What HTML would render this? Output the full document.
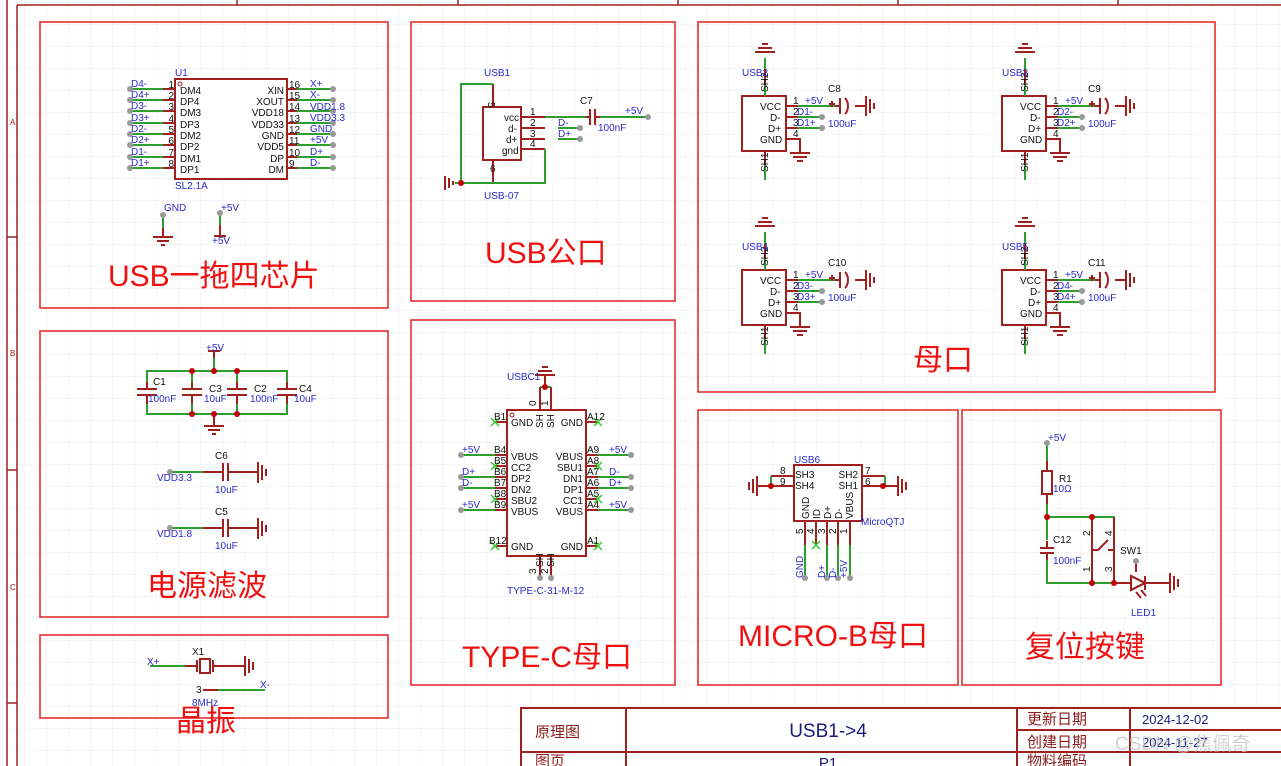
<!DOCTYPE html>
<html><head><meta charset="utf-8"><style>
html,body{margin:0;padding:0;background:#fff;}
svg{display:block;font-family:"Liberation Sans","Noto Sans CJK SC",sans-serif;}
.b{fill:none;stroke:#e32020;stroke-width:1.5}
.r{stroke:#a02020;stroke-width:2;fill:none}
.g{stroke:#2e9e2e;stroke-width:2;fill:none}
.body{fill:#fff;stroke:#a02020;stroke-width:2}
.t{font-size:10px;fill:#111}
.n{font-size:10px;fill:#2a2acc}
.title{font-size:30px;fill:#f01010}
.d{fill:#999}
.j{fill:#c00000}
.x{stroke:#33cc33;stroke-width:1.5}
</style></head><body>
<svg width="1281" height="766" viewBox="0 0 1281 766">
<defs><pattern id="grid" width="22" height="22" patternUnits="userSpaceOnUse" x="3" y="3"><path d="M22 0V22H0" fill="none" stroke="#ececec" stroke-width="1"/></pattern></defs>
<rect width="1281" height="766" fill="url(#grid)"/>
<!-- frame -->
<g stroke="#a02020" stroke-width="1.5" fill="none">
<path d="M7 0V766M17 5V766M17 5H1281"/>
<path d="M7 237H17M7 470H17M7 703H17M237 0V5M458 0V5M678 0V5M898 0V5M1118 0V5"/>
</g>
<g font-size="8" fill="#a02020"><text x="10" y="125">A</text><text x="10" y="356">B</text><text x="10" y="590">C</text></g>
<!-- panels -->
<rect class="b" x="40" y="22" width="348" height="286"/>
<rect class="b" x="411" y="22" width="264" height="279"/>
<rect class="b" x="698" y="22" width="517" height="370"/>
<rect class="b" x="40" y="331" width="348" height="286"/>
<rect class="b" x="411" y="320" width="264" height="365"/>
<rect class="b" x="698" y="410" width="260" height="275"/>
<rect class="b" x="962" y="410" width="259" height="275"/>
<rect class="b" x="40" y="635" width="348" height="83"/>
<!-- titles -->
<text class="title" x="108" y="286">USB一拖四芯片</text>
<text class="title" x="485" y="263">USB公口</text>
<text class="title" x="913" y="370">母口</text>
<text class="title" x="147" y="596">电源滤波</text>
<text class="title" x="462" y="667">TYPE-C母口</text>
<text class="title" x="738" y="646">MICRO-B母口</text>
<text class="title" x="1025" y="657">复位按键</text>
<text class="title" x="176" y="731">晶振</text>

<!-- U1 -->
<rect class="body" x="175" y="79" width="112" height="100"/>
<circle cx="180" cy="84" r="2" fill="none" stroke="#a02020"/>
<text class="n" x="175" y="76">U1</text><text class="n" x="175" y="189">SL2.1A</text>
<g id="u1l">
<path class="g" d="M130 89H163M130 100H163M130 111H163M130 123H163M130 134H163M130 145H163M130 157H163M130 168H163"/>
<path class="r" d="M163 89H175M163 100H175M163 111H175M163 123H175M163 134H175M163 145H175M163 157H175M163 168H175"/>
<path class="g" d="M297 89H333M297 100H333M297 111H333M297 123H333M297 134H333M297 145H333M297 157H333M297 168H333"/>
<path class="r" d="M287 89H297M287 100H297M287 111H297M287 123H297M287 134H297M287 145H297M287 157H297M287 168H297"/>
</g>
<g class="d"><circle cx="130" cy="89" r="3"/><circle cx="130" cy="100" r="3"/><circle cx="130" cy="111" r="3"/><circle cx="130" cy="123" r="3"/><circle cx="130" cy="134" r="3"/><circle cx="130" cy="145" r="3"/><circle cx="130" cy="157" r="3"/><circle cx="130" cy="168" r="3"/>
<circle cx="333" cy="89" r="3"/><circle cx="333" cy="100" r="3"/><circle cx="333" cy="111" r="3"/><circle cx="333" cy="123" r="3"/><circle cx="333" cy="134" r="3"/><circle cx="333" cy="145" r="3"/><circle cx="333" cy="157" r="3"/><circle cx="333" cy="168" r="3"/></g>
<g class="n"><text x="131" y="87">D4-</text><text x="131" y="98">D4+</text><text x="131" y="109">D3-</text><text x="131" y="121">D3+</text><text x="131" y="132">D2-</text><text x="131" y="143">D2+</text><text x="131" y="155">D1-</text><text x="131" y="166">D1+</text>
<text x="310" y="87">X+</text><text x="310" y="98">X-</text><text x="310" y="110">VDD1.8</text><text x="310" y="121">VDD3.3</text><text x="310" y="132">GND</text><text x="310" y="143">+5V</text><text x="310" y="155">D+</text><text x="310" y="166">D-</text></g>
<g class="t" text-anchor="end"><text x="174" y="88">1</text><text x="174" y="99">2</text><text x="174" y="110">3</text><text x="174" y="122">4</text><text x="174" y="133">5</text><text x="174" y="144">6</text><text x="174" y="156">7</text><text x="174" y="167">8</text></g>
<g class="t"><text x="180" y="94">DM4</text><text x="180" y="105">DP4</text><text x="180" y="116">DM3</text><text x="180" y="128">DP3</text><text x="180" y="139">DM2</text><text x="180" y="150">DP2</text><text x="180" y="162">DM1</text><text x="180" y="173">DP1</text>
<text x="289" y="88">16</text><text x="289" y="99">15</text><text x="289" y="110">14</text><text x="289" y="122">13</text><text x="289" y="133">12</text><text x="289" y="144">11</text><text x="289" y="156">10</text><text x="289" y="167">9</text></g>
<g class="t" text-anchor="end"><text x="284" y="94">XIN</text><text x="284" y="105">XOUT</text><text x="284" y="116">VDD18</text><text x="284" y="128">VDD33</text><text x="284" y="139">GND</text><text x="284" y="150">VDD5</text><text x="284" y="162">DP</text><text x="284" y="173">DM</text></g>
<!-- GND / +5V -->
<path class="g" d="M163 215V228M220 213V225"/><path class="r" d="M163 228V237M153 237H173M157 241H169M161 245H165M220 225V236M214 236H226"/>
<circle class="d" cx="163" cy="215" r="3"/><circle class="d" cx="220" cy="213" r="3"/>
<text class="n" x="164" y="211">GND</text><text class="n" x="221" y="211">+5V</text><text class="n" x="212" y="244">+5V</text>

<!-- USB1 -->
<rect class="body" x="483" y="107" width="38" height="53"/>
<path class="r" d="M493 84V107M493 160V183M521 117H545M521 128H545M521 139H545M521 149H545M445 176V190M449 178V188M453 181V185"/>
<path class="g" d="M493 84H461V183H545V149M545 117H585M558 128H580M558 139H580M600 117H648M461 183H455"/>
<path class="r" d="M585 117H590M590 109V125M595 109V125M595 117H600"/>
<circle class="j" cx="461" cy="183" r="3"/>
<circle class="d" cx="580" cy="128" r="3"/><circle class="d" cx="580" cy="139" r="3"/><circle class="d" cx="648" cy="117" r="3"/>
<g class="t"><text x="504" y="121">vcc</text><text x="508" y="132">d-</text><text x="506" y="143">d+</text><text x="502" y="154">gnd</text><text x="530" y="115">1</text><text x="530" y="126">2</text><text x="530" y="137">3</text><text x="530" y="147">4</text><text x="488" y="102" transform="rotate(90 488 102)">5</text><text x="490" y="172">6</text></g>
<g class="n"><text x="484" y="76">USB1</text><text x="484" y="199">USB-07</text><text x="558" y="126">D-</text><text x="558" y="137">D+</text><text x="625" y="114">+5V</text><text x="598" y="131">100nF</text></g>
<text class="t" x="580" y="104">C7</text>

<!-- 母口 connectors -->
<g id="m1">
<rect class="body" x="742" y="96" width="44" height="55"/>
<path class="r" d="M765 96V58M755 52H775M758 48H772M762 44H768M765 151V165M786 106H798M786 117H798M786 128H798M786 139H800V153M790 153H810M793 157H807M797 161H803M835 106H840M840 98V114M855 106H866M866 96V116M870 99V113M874 103V109"/>
<path class="r" d="M845 98C849 102 849 110 845 114"/>
<path class="g" d="M765 58V70M765 85V96M765 165V180M798 106H835M798 117H822M798 128H822"/>
<circle class="d" cx="822" cy="117" r="3"/><circle class="d" cx="822" cy="128" r="3"/>
<g class="t"><text x="760" y="110">VCC</text><text x="770" y="121">D-</text><text x="768" y="132">D+</text><text x="760" y="143">GND</text><text x="793" y="104">1</text><text x="793" y="115">2</text><text x="793" y="126">3</text><text x="793" y="137">4</text>
<text x="768" y="92" transform="rotate(-90 768 92)">SH2</text><text x="768" y="172" transform="rotate(-90 768 172)">SH1</text></g>
<path class="r" d="M829 104H835M832 101V107" stroke-width="1"/>
</g>
<g transform="translate(260 0)"><use href="#m1"/></g>
<g transform="translate(0 174)"><use href="#m1"/></g>
<g transform="translate(260 174)"><use href="#m1"/></g>
<g class="n"><text x="742" y="76">USB2</text><text x="1002" y="76">USB3</text><text x="742" y="250">USB4</text><text x="1002" y="250">USB5</text>
<text x="805" y="104">+5V</text><text x="1065" y="104">+5V</text><text x="805" y="278">+5V</text><text x="1065" y="278">+5V</text>
<text x="797" y="115">D1-</text><text x="797" y="126">D1+</text><text x="1057" y="115">D2-</text><text x="1057" y="126">D2+</text>
<text x="797" y="289">D3-</text><text x="797" y="300">D3+</text><text x="1057" y="289">D4-</text><text x="1057" y="300">D4+</text>
<text x="828" y="127">100uF</text><text x="1088" y="127">100uF</text><text x="828" y="301">100uF</text><text x="1088" y="301">100uF</text></g>
<g class="t"><text x="828" y="92">C8</text><text x="1088" y="92">C9</text><text x="828" y="266">C10</text><text x="1088" y="266">C11</text></g>

<!-- Filter -->
<path class="g" d="M147 371H287V414H147ZM192 371V414M237 371V414M214 358V371"/>
<rect x="140" y="382" width="154" height="22" fill="#fff"/>
<path class="r" d="M147 382V388M147 396V404M137 389H157M137 395H157M192 382V388M192 396V404M182 389H202M182 395H202M237 382V388M237 396V404M227 389H247M227 395H247M287 382V388M287 396V404M277 389H297M277 395H297M208 351H220M214 351V358M214 414V426M204 426H224M208 430H220M212 434H216"/>
<g class="j"><circle cx="192" cy="371" r="3"/><circle cx="214" cy="371" r="3"/><circle cx="237" cy="371" r="3"/><circle cx="192" cy="414" r="3"/><circle cx="214" cy="414" r="3"/><circle cx="237" cy="414" r="3"/></g>
<g class="t"><text x="153" y="385">C1</text><text x="209" y="392">C3</text><text x="254" y="392">C2</text><text x="299" y="392">C4</text><text x="215" y="459">C6</text><text x="215" y="515">C5</text></g>
<g class="n"><text x="206" y="351">+5V</text><text x="148" y="402">100nF</text><text x="204" y="402">10uF</text><text x="250" y="402">100nF</text><text x="294" y="402">10uF</text>
<text x="157" y="481">VDD3.3</text><text x="215" y="493">10uF</text><text x="157" y="537">VDD1.8</text><text x="215" y="549">10uF</text></g>
<path class="g" d="M170 472H203M170 528H203"/>
<path class="r" d="M203 472H223M223 463V481M228 463V481M228 472H258M258 462V483M262 465V480M266 469V476M203 528H223M223 519V537M228 519V537M228 528H258M258 518V539M262 521V536M266 525V532"/>
<circle class="d" cx="170" cy="472" r="3"/><circle class="d" cx="170" cy="528" r="3"/>

<!-- Crystal -->
<path class="g" d="M150 666H185M218 690H265"/>
<path class="r" d="M185 666H197M197 660V672M213 660V672M213 666H245M245 656V676M249 659V673M253 662V670M203 690H218"/>
<rect x="200" y="659" width="10" height="14" class="body" stroke-width="1.5"/>
<text class="n" x="147" y="665">X+</text><text class="t" x="192" y="655">X1</text><text class="t" x="196" y="693">3</text><text class="n" x="192" y="706">8MHz</text><text class="n" x="260" y="688">X-</text>

<!-- TYPE-C -->
<rect class="body" x="507" y="410" width="79" height="146"/>
<circle cx="512" cy="415" r="2" fill="none" stroke="#a02020"/>
<path class="r" d="M540 387V410M551 387V410M540 556V578M551 556V578M545 387V375M535 375H555M538 371H552M542 367H548M495 422H507M495 455H507M495 466H507M495 477H507M495 488H507M495 499H507M495 510H507M495 546H507M586 422H598M586 455H598M586 466H598M586 477H598M586 488H598M586 499H598M586 510H598M586 546H598"/>
<path class="g" d="M540 387H551M461 455H495M461 477H495M461 488H495M461 510H495M598 455H631M598 477H631M598 488H631M598 510H631"/>
<circle class="j" cx="545" cy="387" r="3"/>
<g class="d"><circle cx="461" cy="455" r="3"/><circle cx="461" cy="477" r="3"/><circle cx="461" cy="488" r="3"/><circle cx="461" cy="510" r="3"/><circle cx="631" cy="455" r="3"/><circle cx="631" cy="477" r="3"/><circle cx="631" cy="488" r="3"/><circle cx="631" cy="510" r="3"/><circle cx="540" cy="578" r="3"/><circle cx="551" cy="578" r="3"/></g>
<g class="x"><path d="M491 418l8 8M499 418l-8 8M491 462l8 8M499 462l-8 8M491 495l8 8M499 495l-8 8M491 542l8 8M499 542l-8 8M594 418l8 8M602 418l-8 8M594 462l8 8M602 462l-8 8M594 495l8 8M602 495l-8 8M594 542l8 8M602 542l-8 8"/></g>
<g class="t"><text x="511" y="426">GND</text><text x="511" y="460">VBUS</text><text x="511" y="471">CC2</text><text x="511" y="482">DP2</text><text x="511" y="493">DN2</text><text x="511" y="504">SBU2</text><text x="511" y="515">VBUS</text><text x="511" y="550">GND</text>
<text x="583" y="426" text-anchor="end">GND</text><text x="583" y="460" text-anchor="end">VBUS</text><text x="583" y="471" text-anchor="end">SBU1</text><text x="583" y="482" text-anchor="end">DN1</text><text x="583" y="493" text-anchor="end">DP1</text><text x="583" y="504" text-anchor="end">CC1</text><text x="583" y="515" text-anchor="end">VBUS</text><text x="583" y="550" text-anchor="end">GND</text>
<text x="494" y="420">B1</text><text x="494" y="453">B4</text><text x="494" y="464">B5</text><text x="494" y="475">B6</text><text x="494" y="486">B7</text><text x="494" y="497">B8</text><text x="494" y="508">B9</text><text x="489" y="544">B12</text>
<text x="587" y="420">A12</text><text x="587" y="453">A9</text><text x="587" y="464">A8</text><text x="587" y="475">A7</text><text x="587" y="486">A6</text><text x="587" y="497">A5</text><text x="587" y="508">A4</text><text x="587" y="544">A1</text>
<text x="543" y="428" transform="rotate(-90 543 428)">SH</text><text x="554" y="428" transform="rotate(-90 554 428)">SH</text><text x="543" y="567" transform="rotate(-90 543 567)">SH</text><text x="554" y="567" transform="rotate(-90 554 567)">SH</text>
<text x="536" y="406" transform="rotate(-90 536 406)">0</text><text x="548" y="406" transform="rotate(-90 548 406)">1</text><text x="536" y="574" transform="rotate(-90 536 574)">3</text><text x="548" y="574" transform="rotate(-90 548 574)">2</text></g>
<g class="n"><text x="507" y="380">USBC1</text><text x="507" y="594">TYPE-C-31-M-12</text><text x="462" y="453">+5V</text><text x="462" y="475">D+</text><text x="462" y="486">D-</text><text x="462" y="508">+5V</text><text x="609" y="453">+5V</text><text x="609" y="475">D-</text><text x="609" y="486">D+</text><text x="609" y="508">+5V</text></g>

<!-- MICRO-B -->
<rect class="body" x="794" y="465" width="68" height="56"/>
<path class="r" d="M771 476H794M771 486H794M862 476H885M862 486H885M757 486H771M757 476V496M753 479V493M749 482V490M898 486V476V496M902 479V493M906 482V490M885 486H898M805 521V545M816 521V545M827 521V545M838 521V545M850 521V545"/>
<path class="g" d="M771 476V486M885 476V486M805 545V578M827 545V578M838 545V578M850 545V578"/>
<circle class="j" cx="771" cy="486" r="3"/><circle class="j" cx="883" cy="486" r="3"/>
<g class="d"><circle cx="805" cy="578" r="3"/><circle cx="827" cy="578" r="3"/><circle cx="838" cy="578" r="3"/><circle cx="850" cy="578" r="3"/></g>
<path class="x" d="M812 541l8 8M820 541l-8 8"/>
<g class="t"><text x="795" y="478">SH3</text><text x="795" y="489">SH4</text><text x="858" y="478" text-anchor="end">SH2</text><text x="858" y="489" text-anchor="end">SH1</text>
<text x="780" y="474">8</text><text x="780" y="485">9</text><text x="865" y="474">7</text><text x="865" y="485">6</text>
<text x="809" y="519" transform="rotate(-90 809 519)">GND</text><text x="820" y="519" transform="rotate(-90 820 519)">ID</text><text x="831" y="519" transform="rotate(-90 831 519)">D+</text><text x="842" y="519" transform="rotate(-90 842 519)">D-</text><text x="853" y="519" transform="rotate(-90 853 519)">VBUS</text>
<text x="803" y="534" transform="rotate(-90 803 534)">5</text><text x="814" y="534" transform="rotate(-90 814 534)">4</text><text x="825" y="534" transform="rotate(-90 825 534)">3</text><text x="836" y="534" transform="rotate(-90 836 534)">2</text><text x="847" y="534" transform="rotate(-90 847 534)">1</text></g>
<g class="n"><text x="794" y="463">USB6</text><text x="861" y="525">MicroQTJ</text>
<text x="803" y="578" transform="rotate(-90 803 578)">GND</text><text x="825" y="578" transform="rotate(-90 825 578)">D+</text><text x="836" y="578" transform="rotate(-90 836 578)">D-</text><text x="847" y="578" transform="rotate(-90 847 578)">+5V</text></g>

<!-- Reset -->
<path class="g" d="M1047 443V461M1047 504V517H1114V583H1047V517"/>
<rect x="1040" y="540" width="14" height="20" fill="#fff"/>
<path class="r" d="M1047 461V471M1047 494V504M1040 548H1054M1040 553H1054M1047 541V548M1047 553V560M1092 517V583M1114 517V583M1092 550H1098L1108 540M1114 583H1131M1131 576V590L1145 583ZM1145 576V590M1145 583H1170M1170 573V593M1174 576V590M1178 579V587M1136 592l5 6M1141 590l5 6M1108 550H1114"/>
<rect x="1042" y="471" width="10" height="23" class="body" stroke-width="1.5"/>
<path class="r" d="M1131 576V590L1145 583Z" fill="none"/>
<g class="j"><circle cx="1047" cy="517" r="3"/><circle cx="1092" cy="517" r="3"/><circle cx="1092" cy="583" r="3"/><circle cx="1114" cy="583" r="3"/></g>
<circle class="d" cx="1047" cy="443" r="3"/><circle class="d" cx="1136" cy="561" r="3"/><path class="r" d="M1136 564V572"/>
<g class="n"><text x="1048" y="441">+5V</text><text x="1053" y="492">10Ω</text><text x="1053" y="564">100nF</text><text x="1131" y="616">LED1</text></g>
<g class="t"><text x="1059" y="482">R1</text><text x="1053" y="543">C12</text><text x="1120" y="554">SW1</text>
<text x="1090" y="536" transform="rotate(-90 1090 536)">2</text><text x="1112" y="536" transform="rotate(-90 1112 536)">4</text><text x="1090" y="572" transform="rotate(-90 1090 572)">1</text><text x="1112" y="572" transform="rotate(-90 1112 572)">3</text></g>

<!-- Title block -->
<rect x="521" y="708" width="770" height="70" fill="#fff" stroke="#a02020" stroke-width="2"/>
<path d="M626 708V766M1017 708V766M1130 708V766M1017 730H1281M521 752H1281" stroke="#a02020" stroke-width="2"/>
<g font-size="15" fill="#8b1a1a"><text x="535" y="737">原理图</text><text x="535" y="766">图页</text><text x="1027" y="724">更新日期</text><text x="1027" y="747">创建日期</text><text x="1027" y="766">物料编码</text></g>
<text x="828" y="737" font-size="19" fill="#1a1a80" text-anchor="middle">USB1-&gt;4</text>
<text x="828" y="768" font-size="15" fill="#1a1a80" text-anchor="middle">P1</text>
<g font-size="13" fill="#1a1a80"><text x="1142" y="724">2024-12-02</text><text x="1142" y="747">2024-11-27</text></g>
<text x="1115" y="750" font-size="19" fill="#c8c8c8" opacity="0.8">CSDN @焦佩奇</text>
</svg>
</body></html>
